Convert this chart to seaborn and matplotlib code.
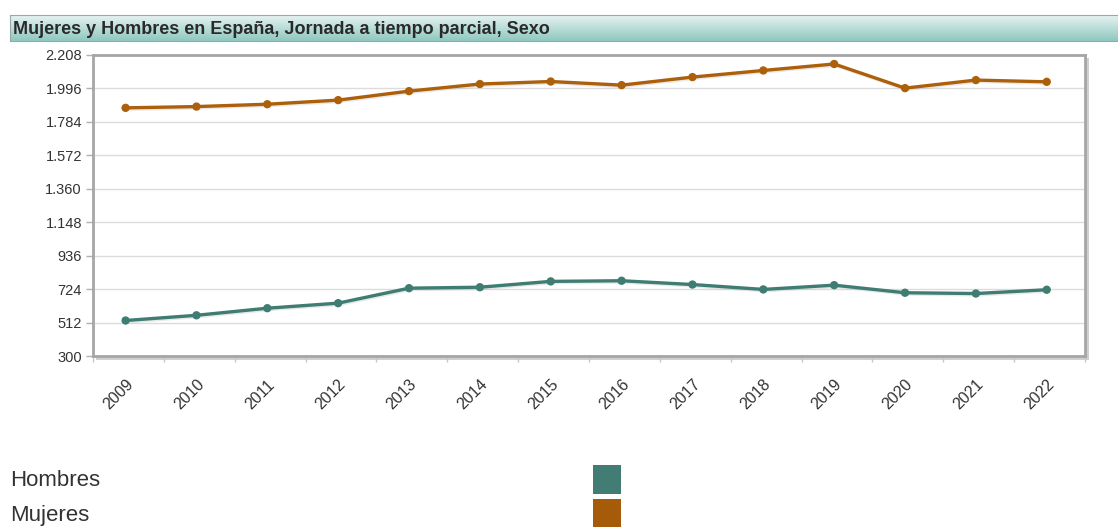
import numpy as np
import pandas as pd
import matplotlib
matplotlib.use("Agg")
import matplotlib.pyplot as plt
import matplotlib.patheffects as pe
from matplotlib.patches import Rectangle
import seaborn as sns

# ----- Datos -----
anios = [2009, 2010, 2011, 2012, 2013, 2014, 2015,
         2016, 2017, 2018, 2019, 2020, 2021, 2022]
mujeres = [1873, 1881, 1896, 1922, 1979, 2024, 2040,
           2017, 2068, 2110, 2151, 1998, 2049, 2038]
hombres = [525, 558, 603, 635, 730, 736, 773,
           777, 753, 722, 749, 701, 696, 720]
ticks_y = [300, 512, 724, 936, 1148, 1360, 1572, 1784, 1996, 2208]
etiquetas_y = ["300", "512", "724", "936", "1.148", "1.360",
               "1.572", "1.784", "1.996", "2.208"]
titulo = "Mujeres y Hombres en España, Jornada a tiempo parcial, Sexo"

col_h = "#3f7d72"
col_m = "#ad600c"

df = pd.DataFrame({
    "pos": list(range(len(anios))) * 2,
    "valor": hombres + mujeres,
    "sexo": ["Hombres"] * len(anios) + ["Mujeres"] * len(anios),
})

sns.set_theme(style="white")
plt.rcParams["font.family"] = ["Liberation Sans", "DejaVu Sans"]

fig = plt.figure(figsize=(11.18, 5.27), dpi=100)
W, H = 1118, 527

# ----- Barra de titulo con degradado -----
axt = fig.add_axes([10 / W, 1 - 41 / H, 1108 / W, 26 / H])
grad = np.linspace(0, 1, 50).reshape(-1, 1)
cmap = matplotlib.colors.LinearSegmentedColormap.from_list(
    "barra", ["#e6f3f1", "#8fc8bf"])
axt.imshow(grad, aspect="auto", cmap=cmap, extent=[0, 1, 0, 1])
axt.set_xlim(0, 1)
axt.set_ylim(0, 1)
axt.set_xticks([])
axt.set_yticks([])
for s in axt.spines.values():
    s.set_color("#9aa9a6")
    s.set_linewidth(0.8)
axt.text(3 / 1108, 0.45, titulo, fontsize=13, fontweight="bold",
         color="#2a2a2a", va="center", ha="left")

# sombra del marco (detras del grafico)
fig.patches.append(Rectangle((96 / W, 1 - 360 / H), 993 / W, 302 / H,
                             transform=fig.transFigure, facecolor="#cfcfcf",
                             edgecolor="none", zorder=0))

# ----- Grafico principal -----
ax = fig.add_axes([93 / W, 1 - 356 / H, 992 / W, 301 / H])
ax.set_zorder(2)

sombra = [pe.SimpleLineShadow(offset=(1.0, -1.0), shadow_color="#aaaaaa",
                              alpha=0.25), pe.Normal()]
sns.lineplot(data=df, x="pos", y="valor", hue="sexo",
             palette={"Hombres": col_h, "Mujeres": col_m},
             marker="o", markersize=6, markeredgewidth=0, linewidth=2.4,
             legend=False, ax=ax)
for ln in ax.lines:
    ln.set_path_effects(sombra)

ax.set_xlim(-0.46, len(anios) - 0.51)
ax.set_ylim(ticks_y[0], ticks_y[-1])
ax.set_yticks(ticks_y)
ax.set_yticklabels(etiquetas_y)
ax.set_xticks(range(len(anios)))
ax.set_xticklabels(anios, rotation=45, ha="right", rotation_mode="anchor")
ax.set_xticks(np.arange(-0.46, len(anios) - 0.4, 1.0), minor=True)
ax.set_xlabel("")
ax.set_ylabel("")
ax.grid(axis="y", color="#dcdcdc", linewidth=1)
ax.set_axisbelow(True)
ax.tick_params(axis="y", which="major", left=True, length=5, width=1,
               color="#b0b0b0", labelsize=10.5, labelcolor="#333333", pad=3)
ax.tick_params(axis="x", which="major", bottom=False, length=0,
               labelsize=11.5, labelcolor="#333333", pad=15)
ax.tick_params(axis="x", which="minor", bottom=True, length=4, width=1,
               color="#c8c8c8")
for s in ax.spines.values():
    s.set_color("#a6a6a6")
    s.set_linewidth(2)
ax.set_facecolor("white")

# ----- Leyenda -----
fig.text(10 / W, 1 - 481 / H, "Hombres", fontsize=16, color="#333333",
         va="center", ha="left")
fig.text(10 / W, 1 - 515 / H, "Mujeres", fontsize=16, color="#333333",
         va="center", ha="left")
fig.patches.append(Rectangle((593 / W, 1 - 494 / H), 28 / W, 29 / H,
                             transform=fig.transFigure, facecolor="#437c74",
                             edgecolor="none"))
fig.patches.append(Rectangle((593 / W, 1 - 528 / H), 28 / W, 29 / H,
                             transform=fig.transFigure, facecolor="#a65b0b",
                             edgecolor="none"))

fig.savefig("out.png", dpi=100)
